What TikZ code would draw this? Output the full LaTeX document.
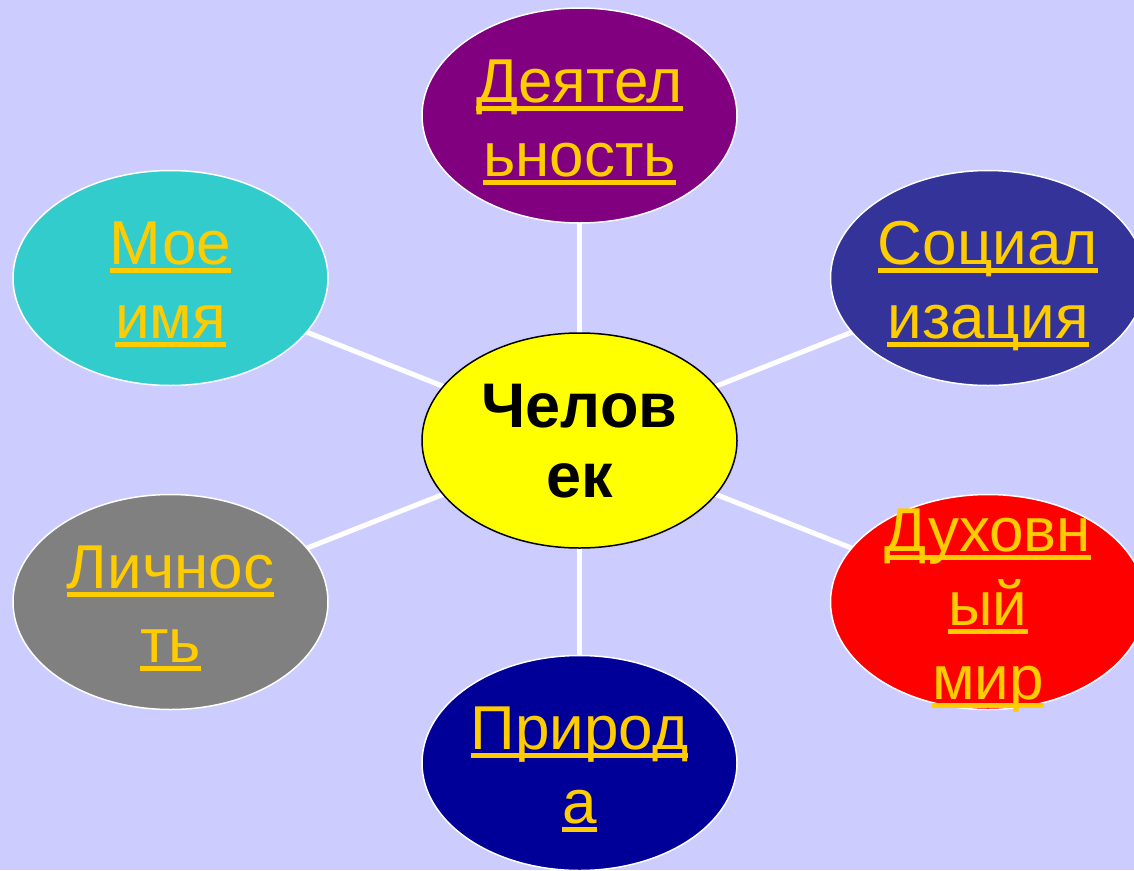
\documentclass[tikz,border=0pt]{standalone}
\usepackage{fontspec}
\setmainfont{Liberation Sans}
\usetikzlibrary{shapes.geometric}
\definecolor{bgc}{HTML}{CCCCFF}
\definecolor{txtc}{HTML}{FFCC00}
\definecolor{cpurple}{HTML}{800080}
\definecolor{ccyan}{HTML}{33CCCC}
\definecolor{cslate}{HTML}{333399}
\definecolor{cgray}{HTML}{808080}
\definecolor{cred}{HTML}{FF0000}
\definecolor{cnavy}{HTML}{000099}
\definecolor{cyel}{HTML}{FFFF00}
\newcommand\ulx[1]{\setbox0\hbox{#1}\rlap{\rule[-8.5pt]{\wd0}{5.5pt}}\box0}
\pgfdeclarelayer{back}
\pgfdeclarelayer{mid}
\pgfsetlayers{back,mid,main}
\tikzset{
  bubble/.style={ellipse, draw=white, line width=1.5pt, minimum width=315pt, minimum height=215pt, inner sep=0pt, fill=#1},
  lbl/.style={anchor=base, inner sep=0pt, text=txtc, font=\fontsize{62}{74}\selectfont},
  clbl/.style={anchor=base, inner sep=0pt, text=black, font=\fontsize{63}{70}\selectfont\bfseries},
  spoke/.style={draw=white, line width=5pt}
}
\begin{document}
\begin{tikzpicture}[x=1pt,y=-1pt]
\begin{pgfonlayer}{back}
\fill[bgc] (0,0) rectangle (1134,870);
\end{pgfonlayer}
\useasboundingbox (0,0) rectangle (1134,870);
\begin{scope}
\clip (0,0) rectangle (1134,870);
\node[bubble=cyel, draw=black] (c) at (579.5,440.5) {};
\node[bubble=cpurple] (t) at (579.5,115.5) {};
\node[bubble=ccyan] (tl) at (170.5,278) {};
\node[bubble=cslate] (tr) at (988,278) {};
\node[bubble=cgray] (bl) at (170.5,602) {};
\node[bubble=cred] (br) at (988,602) {};
\node[bubble=cnavy] (b) at (579.5,763) {};
\end{scope}
\begin{pgfonlayer}{mid}
\foreach \n in {t,tl,tr,bl,br,b} \draw[spoke] (c.center) -- (\n.center);
\end{pgfonlayer}
\node[clbl] (c1) at (579.5,427.5) {Челов};
\node[clbl] (c2) at (579.5,497.5) {ек};
\node[lbl] (t1) at (579.5,102.5) {\ulx{Деятел}};
\node[lbl] (t2) at (579.5,176.5) {\ulx{ьность}};
\node[lbl] (tl1) at (170.5,264.5) {\ulx{Мое}};
\node[lbl] (tl2) at (170.5,338.5) {\ulx{имя}};
\node[lbl] (tr1) at (988,264.5) {\ulx{Социал}};
\node[lbl] (tr2) at (988,338.5) {\ulx{изация}};
\node[lbl] (bl1) at (170.5,588.5) {\ulx{Личнос}};
\node[lbl] (bl2) at (170.5,662.5) {\ulx{ть}};
\node[lbl] (br1) at (988,551.5) {\ulx{Духовн}};
\node[lbl] (br2) at (988,625.5) {\ulx{ый}};
\node[lbl] (br3) at (988,699.5) {\ulx{мир}};
\node[lbl] (b1) at (579.5,749.5) {\ulx{Природ}};
\node[lbl] (b2) at (579.5,823.5) {\ulx{а}};
\end{tikzpicture}
\end{document}
